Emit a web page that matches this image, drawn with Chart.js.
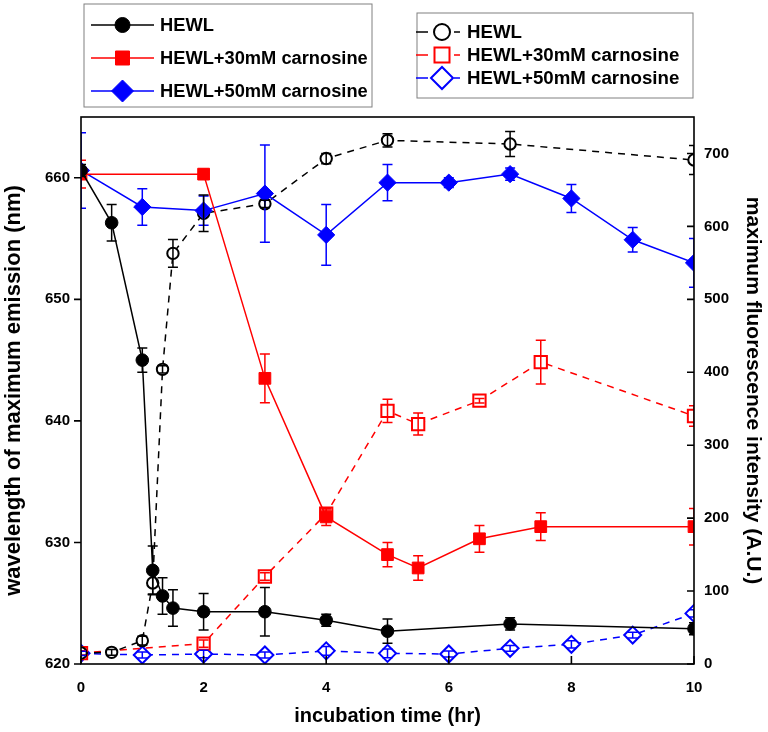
<!DOCTYPE html>
<html>
<head>
<meta charset="utf-8">
<script src="https://cdn.jsdelivr.net/npm/chart.js@4.4.1/dist/chart.umd.min.js"></script>
<style>
  html, body { margin: 0; padding: 0; background: #fff; }
  #wrap { width: 768px; height: 732px; position: relative; }
</style>
</head>
<body>
<div id="wrap"><canvas id="chart"></canvas></div>
<script>
const seriesNames = ["HEWL", "HEWL+30mM carnosine", "HEWL+50mM carnosine"];
const seriesColors = ["#000000", "#ff0000", "#0000ff"];
const seriesMarkers = ["circle", "rect", "rectRot"];

const timeTicks = [0, 2, 4, 6, 8, 10];
const emissionTicks = [620, 630, 640, 650, 660];
const intensityTicks = [0, 100, 200, 300, 400, 500, 600, 700];

// wavelength of maximum emission (left axis, filled markers)
const hewlTime = [0, 0.5, 1, 1.17, 1.33, 1.5, 2, 3, 4, 5, 7, 10];
const hewlEmission = [660.6, 656.3, 645.0, 627.7, 625.6, 624.6, 624.3, 624.3, 623.6, 622.7, 623.3, 622.9];
const hewlEmissionErr = [0.5, 1.5, 1.0, 2.0, 1.5, 1.5, 1.5, 2.0, 0.5, 1.0, 0.5, 0.5];

const c30Time = [0, 2, 3, 4, 5, 5.5, 6.5, 7.5, 10];
const c30Emission = [660.3, 660.3, 643.5, 632.1, 629.0, 627.9, 630.3, 631.3, 631.3];
const c30EmissionErr = [1.15, 0.4, 2.0, 0.7, 1.0, 1.0, 1.1, 1.15, 1.5];

const c50Time = [0, 1, 2, 3, 4, 5, 6, 7, 8, 9, 10];
const c50Emission = [660.6, 657.6, 657.3, 658.7, 655.3, 659.6, 659.6, 660.3, 658.3, 654.9, 653.0];
const c50EmissionErr = [3.1, 1.5, 1.2, 4.0, 2.5, 1.5, 0.4, 0.5, 1.15, 1.0, 2.0];

// maximum fluorescence intensity (right axis, open markers)
const hewlIntTime = [0, 0.5, 1, 1.17, 1.33, 1.5, 2, 3, 4, 5, 7, 10];
const hewlIntensity = [15, 16, 32, 111, 404, 563, 618, 631, 693, 718, 713, 691];
const hewlIntensityErr = [3, 4, 6, 15, 5, 19, 25, 5, 7, 9, 17, 20];

const c30IntTime = [0, 2, 3, 4, 5, 5.5, 6.5, 7.5, 10];
const c30Intensity = [15, 28, 120, 206, 347, 329, 361, 414, 340];
const c30IntensityErr = [3, 5, 5, 5, 16, 15, 3, 30, 14];

const c50IntTime = [0, 1, 2, 3, 4, 5, 6, 7, 8, 9, 10];
const c50Intensity = [14.6, 12.3, 13.7, 12.3, 18, 14.6, 13.7, 21.5, 27, 39.7, 69.4];
const c50IntensityErr = [3, 4, 5, 4, 6, 6, 4, 4, 5, 4, 5];

const fontFamily = "Arial, 'Liberation Sans', Helvetica, sans-serif";

function toPoints(xs, ys) {
  return xs.map((x, i) => ({ x: x, y: ys[i] }));
}

function filledSeries(index, xs, ys, errs, radius) {
  const color = seriesColors[index];
  return {
    label: seriesNames[index],
    data: toPoints(xs, ys),
    errors: errs,
    yAxisID: "y",
    borderColor: color,
    backgroundColor: color,
    borderWidth: 1.5,
    pointStyle: seriesMarkers[index],
    pointRadius: radius,
    pointBorderWidth: 1,
    pointBackgroundColor: color,
    pointBorderColor: color,
    tension: 0,
    clip: 0
  };
}

function openSeries(index, xs, ys, errs, radius) {
  const color = seriesColors[index];
  return {
    label: seriesNames[index],
    data: toPoints(xs, ys),
    errors: errs,
    yAxisID: "y1",
    borderColor: color,
    backgroundColor: "#ffffff",
    borderWidth: 1.5,
    borderDash: [7, 6],
    pointStyle: seriesMarkers[index],
    pointRadius: radius,
    pointBorderWidth: 2,
    pointBackgroundColor: "#ffffff",
    pointBorderColor: color,
    tension: 0,
    clip: 0
  };
}

function drawMarker(ctx, style, x, y, r, filled, color) {
  ctx.save();
  ctx.setLineDash([]);
  ctx.beginPath();
  if (style === "circle") {
    ctx.arc(x, y, r, 0, Math.PI * 2);
  } else if (style === "rect") {
    ctx.rect(x - r, y - r, 2 * r, 2 * r);
  } else {
    ctx.moveTo(x - r, y);
    ctx.lineTo(x, y - r);
    ctx.lineTo(x + r, y);
    ctx.lineTo(x, y + r);
    ctx.closePath();
  }
  ctx.fillStyle = filled ? color : "#ffffff";
  ctx.fill();
  ctx.strokeStyle = color;
  ctx.lineWidth = filled ? 1 : 2;
  ctx.stroke();
  ctx.restore();
}

const errorBarPlugin = {
  id: "errorBars",
  afterDatasetsDraw(chart) {
    const ctx = chart.ctx;
    const area = chart.chartArea;
    ctx.save();
    ctx.beginPath();
    ctx.rect(area.left, area.top, area.right - area.left, area.bottom - area.top);
    ctx.clip();
    ctx.setLineDash([]);
    ctx.lineWidth = 1.5;
    chart.data.datasets.forEach((ds, di) => {
      const meta = chart.getDatasetMeta(di);
      const yScale = chart.scales[ds.yAxisID];
      ctx.strokeStyle = ds.borderColor;
      meta.data.forEach((pt, i) => {
        const v = ds.data[i].y;
        const e = ds.errors[i];
        const yTop = yScale.getPixelForValue(v + e);
        const yBot = yScale.getPixelForValue(v - e);
        ctx.beginPath();
        ctx.moveTo(pt.x, yTop);
        ctx.lineTo(pt.x, yBot);
        ctx.moveTo(pt.x - 5, yTop);
        ctx.lineTo(pt.x + 5, yTop);
        ctx.moveTo(pt.x - 5, yBot);
        ctx.lineTo(pt.x + 5, yBot);
        ctx.stroke();
      });
    });
    ctx.restore();
  }
};

const framePlugin = {
  id: "frame",
  afterDraw(chart) {
    const ctx = chart.ctx;
    const a = chart.chartArea;
    ctx.save();
    ctx.setLineDash([]);
    ctx.strokeStyle = "#000";
    ctx.lineWidth = 1.6;
    ctx.strokeRect(a.left, a.top, a.right - a.left, a.bottom - a.top);
    ctx.beginPath();
    emissionTicks.forEach((v) => {
      const y = chart.scales.y.getPixelForValue(v);
      ctx.moveTo(a.left - 7, y);
      ctx.lineTo(a.left, y);
    });
    intensityTicks.forEach((v) => {
      const y = chart.scales.y1.getPixelForValue(v);
      ctx.moveTo(a.right - 7, y);
      ctx.lineTo(a.right, y);
    });
    timeTicks.forEach((v) => {
      const x = chart.scales.x.getPixelForValue(v);
      ctx.moveTo(x, a.bottom);
      ctx.lineTo(x, a.bottom - 8);
    });
    ctx.stroke();
    ctx.restore();

    drawLegends(chart);
  }
};

function drawLegends(chart) {
  const ctx = chart.ctx;
  ctx.save();
  ctx.font = "bold 18.3px " + fontFamily;
  ctx.textBaseline = "middle";
  ctx.fillStyle = "#000";

  // legend for filled series (emission)
  ctx.strokeStyle = "#808080";
  ctx.lineWidth = 1;
  ctx.strokeRect(84, 4, 288, 103);
  const rows1 = [25, 58, 91];
  const sizes1 = [7.5, 7, 11];
  seriesNames.forEach((name, i) => {
    const y = rows1[i];
    ctx.strokeStyle = seriesColors[i];
    ctx.lineWidth = 1.5;
    ctx.beginPath();
    ctx.moveTo(91, y);
    ctx.lineTo(154, y);
    ctx.stroke();
    drawMarker(ctx, seriesMarkers[i], 122.5, y, sizes1[i], true, seriesColors[i]);
    ctx.fillStyle = "#000";
    ctx.fillText(name, 160, y + 1);
  });

  // legend for open series (intensity)
  ctx.font = "bold 18.7px " + fontFamily;
  ctx.strokeStyle = "#808080";
  ctx.lineWidth = 1;
  ctx.strokeRect(417, 13, 276, 85);
  const rows2 = [32, 55, 78];
  const sizes2 = [8, 7.5, 11];
  seriesNames.forEach((name, i) => {
    const y = rows2[i];
    ctx.strokeStyle = seriesColors[i];
    ctx.lineWidth = 1.5;
    ctx.beginPath();
    ctx.moveTo(416, y);
    ctx.lineTo(428, y);
    ctx.moveTo(454, y);
    ctx.lineTo(460, y);
    ctx.stroke();
    drawMarker(ctx, seriesMarkers[i], 442, y, sizes2[i], false, seriesColors[i]);
    ctx.fillStyle = "#000";
    ctx.fillText(name, 467, y + 1);
  });
  ctx.restore();
}

const tickFont = { family: fontFamily, size: 15, weight: "bold" };
const titleFont = { family: fontFamily, size: 20, weight: "bold" };

new Chart(document.getElementById("chart"), {
  type: "line",
  data: {
    datasets: [
      filledSeries(0, hewlTime, hewlEmission, hewlEmissionErr, 6.3),
      filledSeries(1, c30Time, c30Emission, c30EmissionErr, 8.3),
      filledSeries(2, c50Time, c50Emission, c50EmissionErr, 8.6),
      openSeries(0, hewlIntTime, hewlIntensity, hewlIntensityErr, 5.7),
      openSeries(1, c30IntTime, c30Intensity, c30IntensityErr, 8.7),
      openSeries(2, c50IntTime, c50Intensity, c50IntensityErr, 8.5)
    ]
  },
  options: {
    responsive: true,
    maintainAspectRatio: false,
    animation: false,
    layout: { padding: { top: 117, left: 0, right: 0, bottom: 0 } },
    plugins: {
      legend: { display: false },
      tooltip: { enabled: false }
    },
    scales: {
      x: {
        type: "linear",
        min: 0,
        max: 10,
        grid: { display: false, drawTicks: false },
        border: { display: false },
        afterBuildTicks: (scale) => { scale.ticks = timeTicks.map((v) => ({ value: v })); },
        afterFit: (scale) => { scale.height = 68; },
        ticks: { font: tickFont, color: "#000", padding: 15, maxRotation: 0 },
        title: { display: true, text: "incubation time (hr)", font: titleFont, color: "#000", padding: { top: 0, bottom: 4 } }
      },
      y: {
        type: "linear",
        position: "left",
        min: 620,
        max: 665,
        grid: { display: false, drawTicks: false },
        border: { display: false },
        afterBuildTicks: (scale) => { scale.ticks = emissionTicks.map((v) => ({ value: v })); },
        afterFit: (scale) => { scale.width = 81; },
        ticks: { font: tickFont, color: "#000", padding: 11 },
        title: { display: true, text: "wavelength of maximum emission (nm)", font: { family: fontFamily, size: 22, weight: "bold" }, color: "#000", padding: { top: 1, bottom: 0 } }
      },
      y1: {
        type: "linear",
        position: "right",
        min: 0,
        max: 750,
        grid: { display: false, drawTicks: false },
        border: { display: false },
        afterBuildTicks: (scale) => { scale.ticks = intensityTicks.map((v) => ({ value: v })); },
        afterFit: (scale) => { scale.width = 74; },
        ticks: { font: tickFont, color: "#000", padding: 10 },
        title: { display: true, text: "maximum fluorescence intensity (A.U.)", font: { family: fontFamily, size: 21, weight: "bold" }, color: "#000", padding: { top: 3, bottom: 0 } }
      }
    }
  },
  plugins: [errorBarPlugin, framePlugin]
});
</script>
</body>
</html>
